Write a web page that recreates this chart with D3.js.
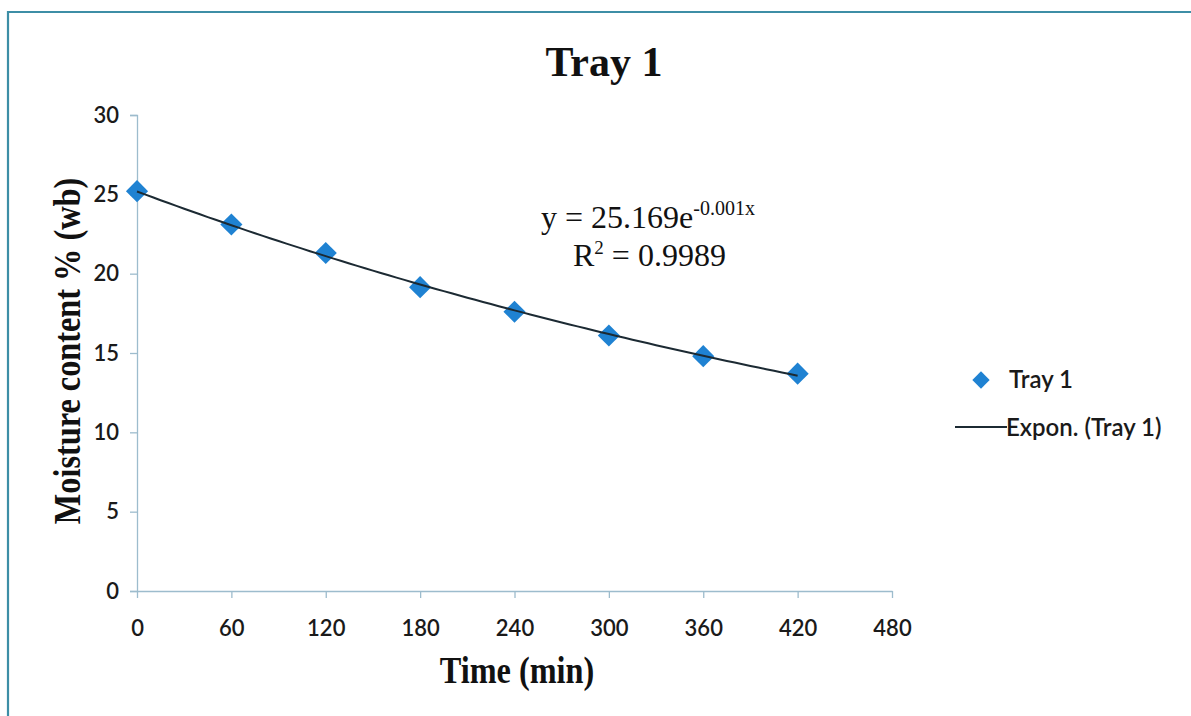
<!DOCTYPE html>
<html><head><meta charset="utf-8">
<script src="https://cdn.jsdelivr.net/npm/d3@7"></script>
<style>body{margin:0;background:#fff}svg{display:block}</style>
</head><body>
<svg id="c" width="1191" height="716"></svg>
<script>
const timeMin = [0, 60, 120, 180, 240, 300, 360, 420];
const moisture = [25.2, 23.1, 21.3, 19.15, 17.6, 16.1, 14.8, 13.7];
const xTicks = [0, 60, 120, 180, 240, 300, 360, 420, 480];
const yTicks = [0, 5, 10, 15, 20, 25, 30];
const titleText = "Tray 1";
const seriesName = "Tray 1";
const trendName = "Expon. (Tray 1)";

const svg = d3.select("#c");
const W = 1191, H = 716;
// frame
svg.append("path").attr("d", `M8,${H+5} L8,12 L${W+5},12`).attr("fill","none").attr("stroke","#3d8ea6").attr("stroke-width",2.2);

const x = d3.scaleLinear().domain([0,480]).range([137,892]);
const y = d3.scaleLinear().domain([0,30]).range([591,115]);
const axisColor = "#9dbccd";
const tickFont = "Lato, 'Open Sans', sans-serif";
const serif = "'Liberation Serif', 'Times New Roman', serif";

// y axis
const ya = svg.append("g").attr("transform",`translate(${x(0)},0)`)
  .call(d3.axisLeft(y).tickValues(yTicks).tickSize(7).tickPadding(11));
ya.select(".domain").attr("stroke",axisColor).attr("stroke-width",1.3);
ya.selectAll(".tick line").attr("stroke",axisColor).attr("stroke-width",1.3);
ya.selectAll(".tick text").attr("font-family",tickFont).attr("font-size",22).attr("fill","#1a1a1a").attr("font-weight",600);

// x axis
const xa = svg.append("g").attr("transform",`translate(0,${y(0)})`)
  .call(d3.axisBottom(x).tickValues(xTicks).tickSize(7).tickSizeOuter(0).tickPadding(22));
xa.select(".domain").attr("stroke",axisColor).attr("stroke-width",1.3);
xa.selectAll(".tick line").attr("stroke",axisColor).attr("stroke-width",1.3);
xa.selectAll(".tick text").attr("font-family",tickFont).attr("font-size",22).attr("fill","#1a1a1a").attr("font-weight",600);

// exponential fit (least squares on ln y)
const lny = moisture.map(Math.log);
const mx = d3.mean(timeMin), my = d3.mean(lny);
const b = d3.sum(timeMin.map((t,i)=>(t-mx)*(lny[i]-my))) / d3.sum(timeMin.map(t=>(t-mx)*(t-mx)));
const a = Math.exp(my - b*mx);
const fitX = d3.range(0, 421, 5);
const line = d3.line().x(d=>x(d)).y(d=>y(a*Math.exp(b*d)));

// markers
const sym = d3.symbol().type(d3.symbolSquare).size(245);
svg.append("g").selectAll("path").data(timeMin).join("path")
  .attr("d",sym)
  .attr("transform",(d,i)=>`translate(${x(d)},${y(moisture[i])}) rotate(45)`)
  .attr("fill","#1f82d2");
// trendline on top
svg.append("path").datum(fitX).attr("d",line).attr("fill","none").attr("stroke","#1c2a33").attr("stroke-width",2);

// title
svg.append("text").attr("x",604).attr("y",76).attr("text-anchor","middle")
  .attr("font-family",serif).attr("font-weight","bold").attr("font-size",42).attr("fill","#111").text(titleText);

// axis titles (condensed bold serif)
svg.append("text").attr("transform","translate(80,351) rotate(-90) scale(0.85,1)").attr("text-anchor","middle")
  .attr("font-family",serif).attr("font-weight","bold").attr("font-size",38).attr("fill","#111").text("Moisture content % (wb)");
svg.append("text").attr("transform","translate(517,683) scale(0.85,1)").attr("text-anchor","middle")
  .attr("font-family",serif).attr("font-weight","bold").attr("font-size",38).attr("fill","#111").text("Time (min)");

// equation
const eq = svg.append("text").attr("x",541).attr("y",228)
  .attr("font-family",serif).attr("font-size",32).attr("fill","#111");
eq.append("tspan").text("y = 25.169e");
eq.append("tspan").attr("dy",-13).attr("font-size",20).text("-0.001x");
const r2 = svg.append("text").attr("x",573).attr("y",266)
  .attr("font-family",serif).attr("font-size",32).attr("fill","#111");
r2.append("tspan").text("R");
r2.append("tspan").attr("dy",-12).attr("font-size",19).text("2");
r2.append("tspan").attr("dy",12).text(" = 0.9989");

// legend
svg.append("path").attr("d",d3.symbol().type(d3.symbolSquare).size(150)())
  .attr("transform","translate(981,380) rotate(45)").attr("fill","#1f82d2");
svg.append("text").attr("x",1009).attr("y",388).attr("font-family",tickFont).attr("font-size",24).attr("font-weight",600).attr("fill","#1a1a1a").text(seriesName);
svg.append("line").attr("x1",955).attr("x2",1007).attr("y1",427).attr("y2",427).attr("stroke","#1c2a33").attr("stroke-width",2);
svg.append("text").attr("x",1006).attr("y",436).attr("font-family",tickFont).attr("font-size",24).attr("font-weight",600).attr("fill","#1a1a1a").text(trendName);
</script>
</body></html>
